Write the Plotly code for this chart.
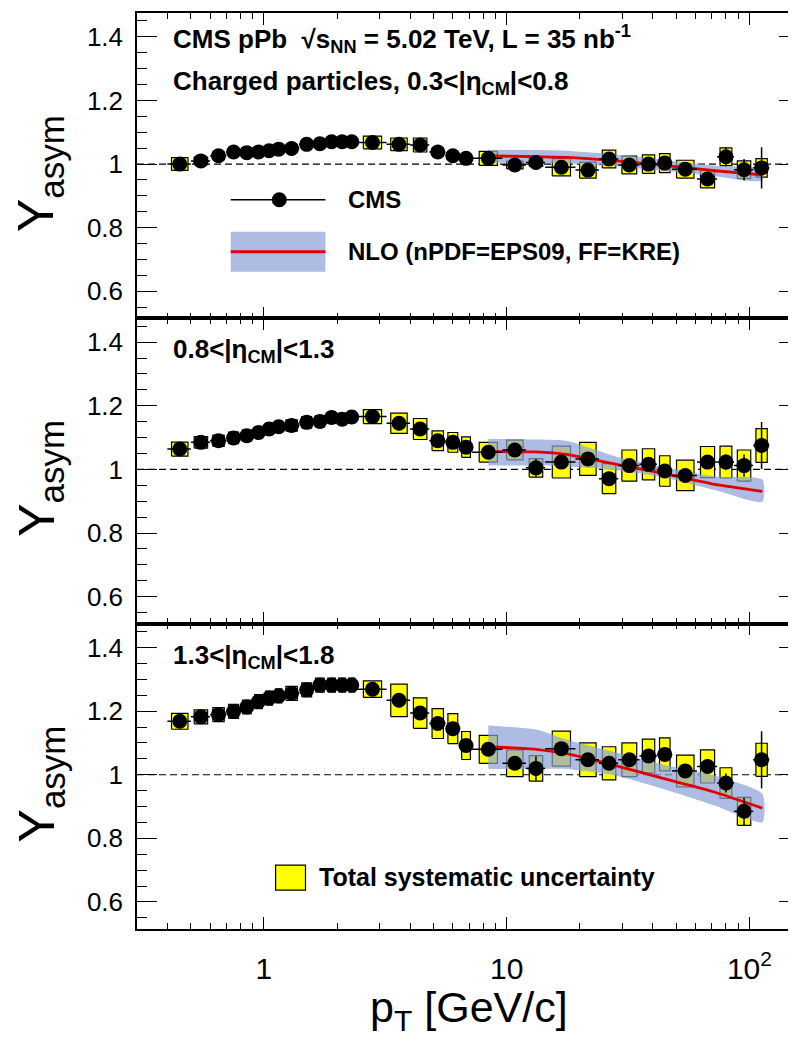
import numpy as np
import plotly.graph_objects as go
from plotly.subplots import make_subplots

# ---------------- data ----------------
pt_edges = [0.4, 0.5, 0.6, 0.7, 0.8, 0.9, 1.0, 1.1, 1.2, 1.4, 1.6, 1.8, 2.0, 2.2, 2.4,
            3.2, 4.0, 4.8, 5.6, 6.4, 7.2, 9.6, 12.0, 14.4, 19.2, 24.0, 28.8, 35.2,
            41.6, 48.0, 60.8, 73.6, 86.4, 103.6, 120.8]
pt = [0.45, 0.55, 0.65, 0.75, 0.85, 0.95, 1.05, 1.15, 1.3, 1.5, 1.7, 1.9, 2.1, 2.3,
      2.8, 3.6, 4.4, 5.2, 6.0, 6.8, 8.4, 10.8, 13.2, 16.8, 21.6, 26.4, 32.0, 38.4,
      44.8, 54.4, 67.2, 80.0, 95.0, 112.2]

# 0.3<|eta_CM|<0.8
y_eta1 = [1.000, 1.010, 1.026, 1.038, 1.036, 1.038, 1.042, 1.047, 1.049, 1.062, 1.064,
          1.070, 1.070, 1.070, 1.068, 1.062, 1.060, 1.038, 1.026, 1.018, 1.018, 0.997,
          1.005, 0.990, 0.981, 1.016, 0.997, 1.000, 1.003, 0.984, 0.953, 1.023, 0.982, 0.988]
stat_eta1 = [0.003] * 14 + [0.004, 0.005, 0.005, 0.005, 0.006, 0.006, 0.006, 0.008,
                            0.022, 0.010, 0.012, 0.014, 0.015, 0.016, 0.018, 0.018,
                            0.020, 0.030, 0.034, 0.065]
sys_eta1 = [0.020] + [0.012] * 13 + [0.020, 0.020, 0.022, 0.012, 0.012, 0.012, 0.022,
                                     0.012, 0.012, 0.027, 0.025, 0.028, 0.028, 0.029,
                                     0.030, 0.028, 0.028, 0.028, 0.028, 0.029]

# 0.8<|eta_CM|<1.3
y_eta2 = [1.064, 1.085, 1.090, 1.099, 1.106, 1.116, 1.127, 1.134, 1.138, 1.148, 1.151,
          1.163, 1.158, 1.165, 1.166, 1.145, 1.127, 1.090, 1.085, 1.070, 1.054, 1.061,
          1.005, 1.023, 1.033, 0.971, 1.012, 1.016, 0.995, 0.981, 1.023, 1.023, 1.012, 1.075]
stat_eta2 = [0.003] * 14 + [0.004, 0.005, 0.005, 0.006, 0.006, 0.006, 0.007, 0.010,
                            0.028, 0.012, 0.014, 0.020, 0.015, 0.016, 0.016, 0.018,
                            0.020, 0.025, 0.035, 0.074]
sys_eta2 = [0.022] + [0.018] * 13 + [0.022, 0.032, 0.033, 0.031, 0.031, 0.032, 0.031,
                                     0.031, 0.029, 0.050, 0.052, 0.047, 0.049, 0.049,
                                     0.048, 0.048, 0.049, 0.050, 0.049, 0.053]

# 1.3<|eta_CM|<1.8
y_eta3 = [1.168, 1.182, 1.189, 1.199, 1.213, 1.230, 1.241, 1.248, 1.256, 1.267, 1.282,
          1.282, 1.282, 1.282, 1.269, 1.234, 1.194, 1.161, 1.145, 1.092, 1.080, 1.036,
          1.020, 1.082, 1.047, 1.036, 1.047, 1.059, 1.064, 1.012, 1.026, 0.974, 0.885, 1.047]
stat_eta3 = [0.003] * 14 + [0.004, 0.005, 0.006, 0.006, 0.007, 0.007, 0.008, 0.012,
                            0.038, 0.014, 0.015, 0.016, 0.016, 0.018, 0.020, 0.020,
                            0.022, 0.030, 0.043, 0.090]
sys_eta3 = [0.025] + [0.022] * 13 + [0.026, 0.051, 0.048, 0.047, 0.047, 0.044, 0.044,
                                     0.042, 0.040, 0.055, 0.053, 0.052, 0.053, 0.053,
                                     0.052, 0.050, 0.052, 0.048, 0.044, 0.052]

# NLO (nPDF=EPS09, FF=KRE)
nlo_pt = [8.4, 13.2, 17.6, 28.3, 45.2, 72.1, 113.0]
nlo_c1 = [1.026, 1.023, 1.021, 1.010, 0.995, 0.979, 0.966]
nlo_hi1 = [1.045, 1.044, 1.042, 1.030, 1.012, 0.995, 0.985]
nlo_lo1 = [1.005, 1.003, 1.002, 0.992, 0.978, 0.962, 0.948]
nlo_c2 = [1.056, 1.055, 1.047, 1.016, 0.986, 0.953, 0.931]
nlo_hi2 = [1.096, 1.094, 1.090, 1.040, 1.007, 0.978, 0.968]
nlo_lo2 = [1.012, 1.012, 1.010, 0.997, 0.974, 0.935, 0.898]
nlo_c3 = [1.088, 1.080, 1.066, 1.028, 0.986, 0.945, 0.895]
nlo_hi3 = [1.155, 1.142, 1.111, 1.070, 1.030, 0.997, 0.940]
nlo_lo3 = [1.018, 1.018, 1.018, 0.997, 0.953, 0.903, 0.851]

panel_labels = ["Charged particles, 0.3&lt;|η<sub>CM</sub>|&lt;0.8",
                "0.8&lt;|η<sub>CM</sub>|&lt;1.3",
                "1.3&lt;|η<sub>CM</sub>|&lt;1.8"]

# ---------------- style ----------------
W_FIG, H_FIG = 796, 1044
L, R, T, B = 129, 3, 4, 123
PW, PH = W_FIG - L - R, H_FIG - T - B
YRANGE = [0.515, 1.475]
XRANGE = [np.log10(0.3), np.log10(160)]
FONT = "Liberation Sans, Arial, sans-serif"
BAND = "rgba(140,160,215,0.70)"
YELLOW = "#ffff00"
RED = "#e00000"


def px(x):
    return (x - L) / PW


def py(y):
    return (H_FIG - B - y) / PH


fig = make_subplots(rows=3, cols=1, shared_xaxes=True, vertical_spacing=0)

edges = np.array(pt_edges)
lo_e, hi_e = edges[:-1], edges[1:]
ptc = np.array(pt)
logw = np.log10(hi_e / lo_e)
box_hw = np.minimum(0.35 * logw, 0.0375)

panels = [
    (y_eta1, stat_eta1, sys_eta1, nlo_c1, nlo_hi1, nlo_lo1),
    (y_eta2, stat_eta2, sys_eta2, nlo_c2, nlo_hi2, nlo_lo2),
    (y_eta3, stat_eta3, sys_eta3, nlo_c3, nlo_hi3, nlo_lo3),
]

for i, (yv, st, sy, c, hi, lo) in enumerate(panels, start=1):
    yv = np.array(yv)
    sy = np.array(sy)
    bx, by = [], []
    for xc, hw, yc, s in zip(ptc, box_hw, yv, sy):
        x0, x1 = xc * 10 ** (-hw), xc * 10 ** hw
        bx += [x0, x1, x1, x0, x0, None]
        by += [yc - s, yc - s, yc + s, yc + s, yc - s, None]
    fig.add_trace(go.Scatter(x=bx, y=by, mode="lines", fill="toself",
                             fillcolor=YELLOW, line=dict(color="black", width=1.2),
                             showlegend=False, hoverinfo="skip"), row=i, col=1)
    # NLO band
    fig.add_trace(go.Scatter(x=list(nlo_pt) + list(nlo_pt[::-1]),
                             y=list(hi) + list(lo[::-1]),
                             mode="lines", fill="toself", fillcolor=BAND,
                             line=dict(width=0, color="rgba(0,0,0,0)", shape="spline", smoothing=0.6),
                             showlegend=False, hoverinfo="skip"), row=i, col=1)
    fig.add_trace(go.Scatter(x=nlo_pt, y=c, mode="lines",
                             line=dict(color=RED, width=2.8, shape="spline", smoothing=0.6),
                             showlegend=False, hoverinfo="skip"), row=i, col=1)
    # data points
    fig.add_trace(go.Scatter(
        x=ptc, y=yv, mode="markers",
        marker=dict(color="black", size=15, line=dict(width=0)),
        error_x=dict(type="data", symmetric=False, array=hi_e - ptc,
                     arrayminus=ptc - lo_e, color="black", thickness=1.5, width=0),
        error_y=dict(type="data", array=st, color="black", thickness=1.5, width=0),
        showlegend=False, hoverinfo="skip"), row=i, col=1)
    yref = "y" if i == 1 else f"y{i}"
    fig.add_shape(type="line", xref="x domain" if i == 1 else f"x{i} domain", yref=yref,
                  x0=0, x1=1, y0=1, y1=1, layer="below",
                  line=dict(color="black", width=1.2, dash="7px,4px"))

minor_x = [v * d for d in (0.1, 1, 10, 100) for v in range(2, 10) if 0.3 <= v * d <= 160]
minor_y = [round(v, 2) for v in np.arange(0.55, 1.5, 0.05)]

for i in range(1, 4):
    fig.update_xaxes(type="log", range=XRANGE, showline=True, linecolor="black",
                     linewidth=1.5, mirror="allticks", ticks="inside", ticklen=12,
                     tickwidth=1.2, tickcolor="black", tickmode="array",
                     tickvals=[1, 10, 100], ticktext=["1", "10", "10<sup>2</sup>"],
                     showgrid=False, zeroline=False,
                     minor=dict(ticks="inside", ticklen=6, tickwidth=1.2,
                                tickcolor="black", tickmode="array", tickvals=minor_x),
                     tickfont=dict(family=FONT, size=30, color="black"),
                     ticklabelstandoff=12,
                     row=i, col=1)
    fig.update_yaxes(range=YRANGE, showline=True, linecolor="black", linewidth=1.5,
                     mirror="allticks", ticks="inside", ticklen=20, tickwidth=1.2,
                     tickcolor="black", tickmode="array",
                     tickvals=[0.6, 0.8, 1.0, 1.2, 1.4],
                     ticktext=["0.6", "0.8", "1", "1.2", "1.4"],
                     showgrid=False, zeroline=False,
                     minor=dict(ticks="inside", ticklen=10, tickwidth=1.2,
                                tickcolor="black", tickmode="array", tickvals=minor_y),
                     tickfont=dict(family=FONT, size=26, color="black"),
                     ticklabelstandoff=7,
                     row=i, col=1)

ann = []


def text(x, y, s, size, bold=True, xanchor="left", angle=0):
    ann.append(dict(x=px(x), y=py(y), xref="paper", yref="paper", text=(f"<b>{s}</b>" if bold else s),
                    showarrow=False, xanchor=xanchor, yanchor="middle", textangle=angle,
                    font=dict(family=FONT, size=size, color="black")))


text(163, 30, "CMS pPb  √s<sub>NN</sub> = 5.02 TeV, L = 35 nb<sup>-1</sup>", 26)
text(163, 74, panel_labels[0], 26)
text(163, 342, panel_labels[1], 26)
text(163, 648, panel_labels[2], 26)
text(339, 191, "CMS", 24)
text(339, 243, "NLO (nPDF=EPS09, FF=KRE)", 24)
text(310, 869, "Total systematic uncertainty", 25)
for yc in (165, 470, 776):
    text(32, yc, "Y<sub>asym</sub>", 50, bold=False, xanchor="center", angle=-90)
text(462, 1002, "p<sub>T</sub> [GeV/c]", 43, bold=False, xanchor="center")

shapes = [
    dict(type="line", xref="paper", yref="paper", x0=px(223), x1=px(318), y0=py(191), y1=py(191),
         line=dict(color="black", width=1.5)),
    dict(type="circle", xref="paper", yref="paper", xsizemode="pixel", ysizemode="pixel",
         xanchor=px(271.7), yanchor=py(191), x0=-7.5, x1=7.5, y0=-7.5, y1=7.5,
         fillcolor="black", line=dict(width=0)),
    dict(type="rect", xref="paper", yref="paper", x0=px(223), x1=px(318), y0=py(263), y1=py(223),
         fillcolor=BAND, line=dict(width=0)),
    dict(type="line", xref="paper", yref="paper", x0=px(223), x1=px(318), y0=py(243), y1=py(243),
         line=dict(color=RED, width=2.8)),
    dict(type="rect", xref="paper", yref="paper", x0=px(268), x1=px(298), y0=py(882), y1=py(857),
         fillcolor=YELLOW, line=dict(color="black", width=1.2)),
]
for s in shapes:
    fig.add_shape(**s)

fig.update_layout(width=W_FIG, height=H_FIG, margin=dict(l=L, r=R, t=T, b=B),
                  paper_bgcolor="white", plot_bgcolor="white", annotations=ann,
                  showlegend=False)

fig.write_html("out.html")
